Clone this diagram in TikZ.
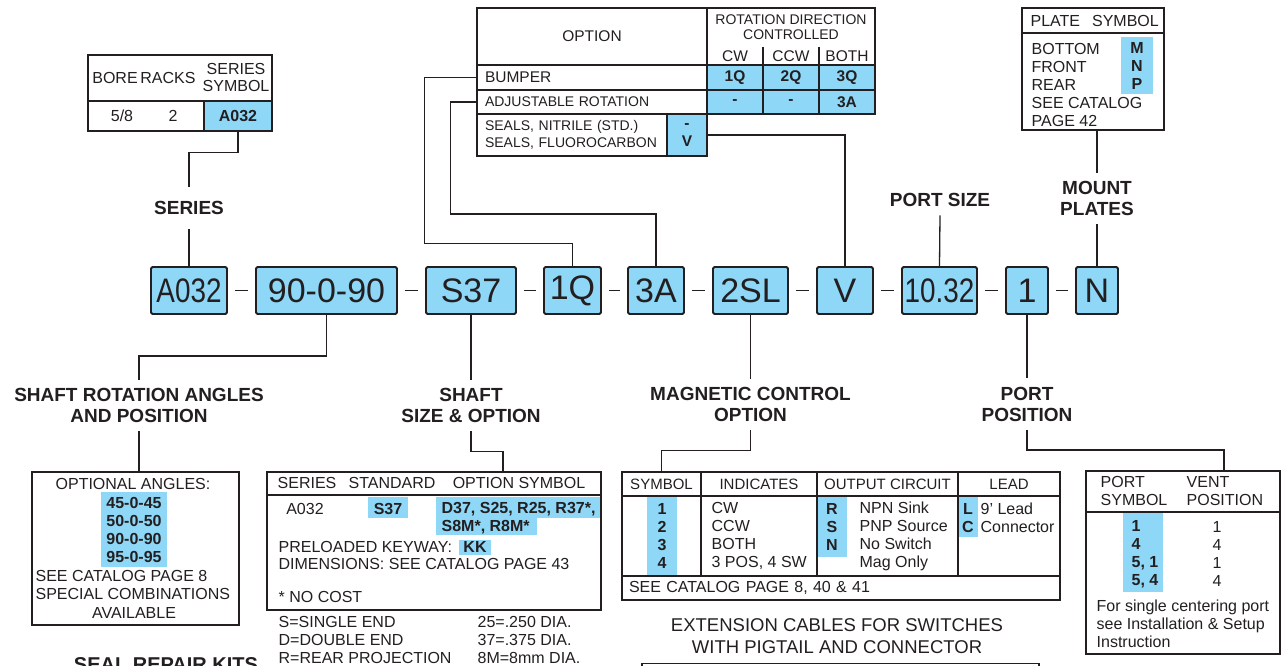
\documentclass[tikz,border=0pt]{standalone}
\usepackage{fontspec}
\setmainfont{Liberation Sans}
\usepackage{graphicx}
\usetikzlibrary{positioning}
\definecolor{codeblue}{RGB}{142,215,247}
\definecolor{ink}{RGB}{35,31,32}
\newcommand{\narrow}[1]{\scalebox{0.82}[1]{#1}}

\begin{document}
\begin{tikzpicture}[x=1pt, y=-1pt, ink, line width=1.3pt,
  every node/.style = {inner sep=0pt},
  code/.style = {draw, line width=1.8pt, fill=codeblue, rounded corners=1.5pt,
    minimum height=47pt, font=\fontsize{34}{34}\selectfont},
  title/.style = {font=\fontsize{19}{21}\selectfont\bfseries, align=center,
    inner ysep=8pt},
  tabcell/.style = {draw, line width=1.3pt},
  hilite/.style = {fill=codeblue},
  txt/.style = {font=\fontsize{16}{18}\selectfont, align=left},
  boldtxt/.style = {font=\fontsize{16}{18}\selectfont\bfseries, align=center},
  small/.style = {font=\fontsize{14}{17}\selectfont, align=left},
  mid/.style = {font=\fontsize{15.5}{17}\selectfont, align=left},
  smallbold/.style = {font=\fontsize{15.5}{18}\selectfont\bfseries, align=center},
  dashline/.style = {shorten <=7pt, shorten >=7pt}]

  \useasboundingbox (0,0) rectangle (1283,666);
  \clip (0,0) rectangle (1283,666);
  \fill[white] (0,0) rectangle (1283,666);

  % series table
  \node[tabcell, minimum width=184pt, minimum height=46pt] (borehead) at (180,78) {};
  \node[tabcell, minimum width=184pt, minimum height=30pt] (borebody) at (180,116) {};
  \node[tabcell, hilite, minimum width=68pt, minimum height=30pt,
    font=\fontsize{16}{18}\selectfont\bfseries] (seriescell) at (238,116) {A032};
  \node[txt] at (115,78) {BORE};
  \node[txt] at (168,78) {RACKS};
  \node[txt, align=center, font=\fontsize{16}{17}\selectfont] at (236,77.5) {SERIES\\SYMBOL};
  \node[txt] at (122,116) {5/8};
  \node[txt] at (173,116) {2};

  % option table
  \node[tabcell, mid, minimum width=230pt, minimum height=57pt] (opthead) at (592,36.5) {OPTION};
  \node[tabcell, minimum width=168pt, minimum height=57pt] (rothead) at (791,36.5) {};
  \node[small, align=center, font=\fontsize{14}{15}\selectfont] at (791,27.5) {ROTATION DIRECTION\\CONTROLLED};
  \node[mid] at (735,56) {CW};
  \node[mid] at (791,56) {CCW};
  \node[mid] at (847,56) {BOTH};
  \draw (763,47) -- (763,65);
  \draw (819,47) -- (819,65);
  \node[tabcell, mid, minimum width=230pt, minimum height=25pt, text width=214pt]
    (bumper) at (592,77.5) {BUMPER};
  \node[tabcell, small, minimum width=230pt, minimum height=24pt, text width=214pt]
    (adjrot) at (592,102) {ADJUSTABLE ROTATION};
  \foreach \x/\t in {735/1Q, 791/2Q, 847/3Q}
    \node[tabcell, hilite, smallbold, minimum width=56pt, minimum height=25pt] at (\x,77.5) {\t};
  \foreach \x/\t in {735/-, 791/-, 847/3A}
    \node[tabcell, hilite, smallbold, minimum width=56pt, minimum height=24pt] at (\x,102) {\t};
  \node[tabcell, small, minimum width=190pt, minimum height=42pt, text width=174pt]
    (seals) at (572,135) {SEALS, NITRILE (STD.)\\SEALS, FLUOROCARBON};
  \node[tabcell, hilite, smallbold, minimum width=40pt, minimum height=42pt]
    (sealv) at (687,135) {-\\V};

  % plate table
  \node[hilite, minimum width=32pt, minimum height=57pt] at (1137,65.5) {};
  \node[tabcell, minimum width=142pt, minimum height=25pt] (platehead) at (1093,20.5) {};
  \node[tabcell, minimum width=142pt, minimum height=97pt] (platebody) at (1093,81.5) {};
  \node[txt, anchor=west] at (1030,21) {PLATE\hspace{12pt}SYMBOL};
  \node[txt, anchor=west] at (1031,84.5) {BOTTOM\\FRONT\\REAR\\SEE CATALOG\\PAGE 42};
  \node[boldtxt] at (1137,66) {M\\N\\P};

  % model code
  \node[code, minimum width=76pt] (a032) at (189,290.5) {\narrow{A032}};
  \node[code, minimum width=141pt] (o90) at (326.5,290.5) {90-0-90};
  \node[code, minimum width=90pt] (s37) at (471,290.5) {S37};
  \node[code, minimum width=57pt] (o1q) at (572.5,290.5) {1Q};
  \node[code, minimum width=56pt] (o3a) at (656,290.5) {3A};
  \node[code, minimum width=75pt] (o2sl) at (750.5,290.5) {2SL};
  \node[code, minimum width=56pt] (ov) at (845,290.5) {V};
  \node[code, minimum width=75pt] (o1032) at (939.5,290.5) {\narrow{10.32}};
  \node[code, minimum width=42pt] (o1) at (1027,290.5) {1};
  \node[code, minimum width=42pt] (on) at (1097,290.5) {N};
  \foreach \a/\b in {a032/o90, o90/s37, s37/o1q, o1q/o3a, o3a/o2sl,
                     o2sl/ov, ov/o1032, o1032/o1, o1/on}
    \draw[dashline] (\a) -- (\b);

  % labels
  \node[title, inner ysep=14pt] (serieslbl) at (189,208) {SERIES};
  \node[title] (portsize) at (940,200) {PORT SIZE};
  \node[title] (mountlbl) at (1097,198.5) {MOUNT\\PLATES};
  \node[title] (rotlbl) at (139,405.5) {SHAFT ROTATION ANGLES\\AND POSITION};
  \node[title] (shaftlbl) at (471,405.5) {SHAFT\\SIZE \& OPTION};
  \node[title] (maglbl) at (750.5,404.5) {MAGNETIC CONTROL\\OPTION};
  \node[title] (portlbl) at (1027,404) {PORT\\POSITION};

  % angles table
  \node[tabcell, minimum width=207pt, minimum height=153pt] (anglebox) at (135.5,548.5) {};
  \node[hilite, boldtxt, minimum width=66pt, minimum height=75pt] at (134,529.5)
    {45-0-45\\50-0-50\\90-0-90\\95-0-95};
  \node[txt] at (133,484) {OPTIONAL ANGLES:};
  \node[txt, anchor=west] at (35,584.5) {SEE CATALOG PAGE 8\\SPECIAL COMBINATIONS};
  \node[txt] at (134,613) {AVAILABLE};

  % shaft table
  \node[hilite, minimum width=40pt, minimum height=21pt] at (388,507.5) {};
  \node[hilite, minimum width=164pt, minimum height=21pt] at (518,507.5) {};
  \node[hilite, minimum width=101pt, minimum height=17pt] at (486.5,526.5) {};
  \node[hilite, minimum width=32pt, minimum height=15pt] at (475,547) {};
  \node[tabcell, minimum width=334pt, minimum height=23pt] (shafthead) at (434,483.5) {};
  \node[tabcell, minimum width=334pt, minimum height=115pt] (shaftbody) at (434,552.5) {};
  \node[txt] at (307,483) {SERIES};
  \node[txt] at (392,483) {STANDARD};
  \node[txt] at (519,483) {OPTION SYMBOL};
  \node[txt] at (305,509) {A032};
  \node[boldtxt] at (388,509) {S37};
  \node[boldtxt, anchor=west, align=left] at (441,518) {D37, S25, R25, R37*,\\S8M*, R8M*};
  \node[txt, anchor=west, font=\fontsize{16}{17}\selectfont] at (278,555.5)
    {PRELOADED KEYWAY:\\DIMENSIONS: SEE CATALOG PAGE 43};
  \node[boldtxt] at (475,547) {KK};
  \node[txt, anchor=west] at (278,597) {* NO COST};
  \node[txt, anchor=west] at (278,640) {S=SINGLE END\\D=DOUBLE END\\R=REAR PROJECTION};
  \node[txt, anchor=west] at (477,640) {25=.250 DIA.\\37=.375 DIA.\\8M=8mm DIA.};

  % magnetic control table
  \node[hilite, minimum width=30pt, minimum height=80pt] at (662,536) {};
  \node[hilite, minimum width=30pt, minimum height=61pt] at (832,526.5) {};
  \node[hilite, minimum width=20pt, minimum height=41pt] at (968,516.5) {};
  \node[tabcell, txt, font=\fontsize{15}{18}\selectfont, minimum width=79pt, minimum height=24pt]
    (symhead) at (661.5,484) {SYMBOL};
  \node[tabcell, txt, font=\fontsize{15}{18}\selectfont, minimum width=116pt, minimum height=24pt]
    (indhead) at (759,484) {INDICATES};
  \node[tabcell, txt, font=\fontsize{15}{18}\selectfont, minimum width=141pt, minimum height=24pt]
    (outhead) at (887.5,484) {OUTPUT CIRCUIT};
  \node[tabcell, txt, font=\fontsize{15}{18}\selectfont, minimum width=102pt, minimum height=24pt]
    (leadhead) at (1009,484) {LEAD};
  \node[tabcell, minimum width=79pt, minimum height=80pt] (symbody) at (661.5,536) {};
  \node[tabcell, minimum width=116pt, minimum height=80pt] (indbody) at (759,536) {};
  \node[tabcell, minimum width=141pt, minimum height=80pt] (outbody) at (887.5,536) {};
  \node[tabcell, minimum width=102pt, minimum height=80pt] (leadbody) at (1009,536) {};
  \node[tabcell, txt, minimum width=438pt, minimum height=24pt, text width=424pt]
    (magfoot) at (841,588) {SEE CATALOG PAGE 8, 40 \& 41};
  \node[boldtxt] at (662,536) {1\\2\\3\\4};
  \node[txt, anchor=west] at (711,536) {CW\\CCW\\BOTH\\3 POS, 4 SW};
  \node[boldtxt] at (832,527) {R\\S\\N};
  \node[txt, anchor=west] at (859,536) {NPN Sink\\PNP Source\\No Switch\\Mag Only};
  \node[boldtxt] at (968,518) {L\\C};
  \node[txt, anchor=west] at (980,518) {9’ Lead\\Connector};

  % port position table
  \node[hilite, minimum width=40pt, minimum height=80pt] at (1143,552) {};
  \node[tabcell, minimum width=194pt, minimum height=41pt] (porthead) at (1183,491.5) {};
  \node[tabcell, minimum width=194pt, minimum height=142pt] (portbody) at (1183,583) {};
  \node[txt, anchor=west] at (1100,491) {PORT\\SYMBOL};
  \node[txt, anchor=west] at (1186,491) {VENT\\POSITION};
  \node[boldtxt, anchor=west, align=left] at (1131,554) {1\\4\\5, 1\\5, 4};
  \node[txt, align=center] at (1217,554) {1\\4\\1\\4};
  \node[txt, anchor=west] at (1096,624) {For single centering port\\see Installation \& Setup\\Instruction};

  % cut-off bottom parts
  \node[font=\fontsize{18.5}{22}\selectfont, align=center] (cablelbl) at (837,636)
    {EXTENSION CABLES FOR SWITCHES\\WITH PIGTAIL AND CONNECTOR};
  \node[tabcell, minimum width=397pt, minimum height=40pt, anchor=north] (cabletab) at (840.5,663) {};
  \node[font=\fontsize{20}{22}\selectfont\bfseries] (seallbl) at (166,665) {SEAL REPAIR KITS};

  % connectors
  \draw (seriescell.south) -- ++(0,21) -| (serieslbl.north);
  \draw (serieslbl.south) -- (a032.north);
  \draw (bumper.west) -- ++(-52,0) -- ++(0,166) -| (o1q.north);
  \draw (adjrot.west) -- ++(-26,0) -- ++(0,112) -| (o3a.north);
  \draw (sealv.east) -| (ov.north);
  \draw (portsize.south) -- (o1032.north);
  \draw (platebody.south -| mountlbl.north) -- (mountlbl.north);
  \draw (mountlbl.south) -- (on.north);
  \draw (o90.south) -- ++(0,41) -| (rotlbl.north);
  \draw (rotlbl.south) -- (rotlbl.south |- anglebox.north);
  \draw (s37.south) -- (shaftlbl.north);
  \draw (shaftlbl.south) -- ++(0,20) -| ([xshift=69pt]shafthead.north);
  \draw (o2sl.south) -- (maglbl.north);
  \draw (maglbl.south) -- ++(0,20) -| (symhead.north);
  \draw (o1.south) -- (portlbl.north);
  \draw (portlbl.south) -- ++(0,20) -| ([xshift=41pt]porthead.north);
\end{tikzpicture}
\end{document}
